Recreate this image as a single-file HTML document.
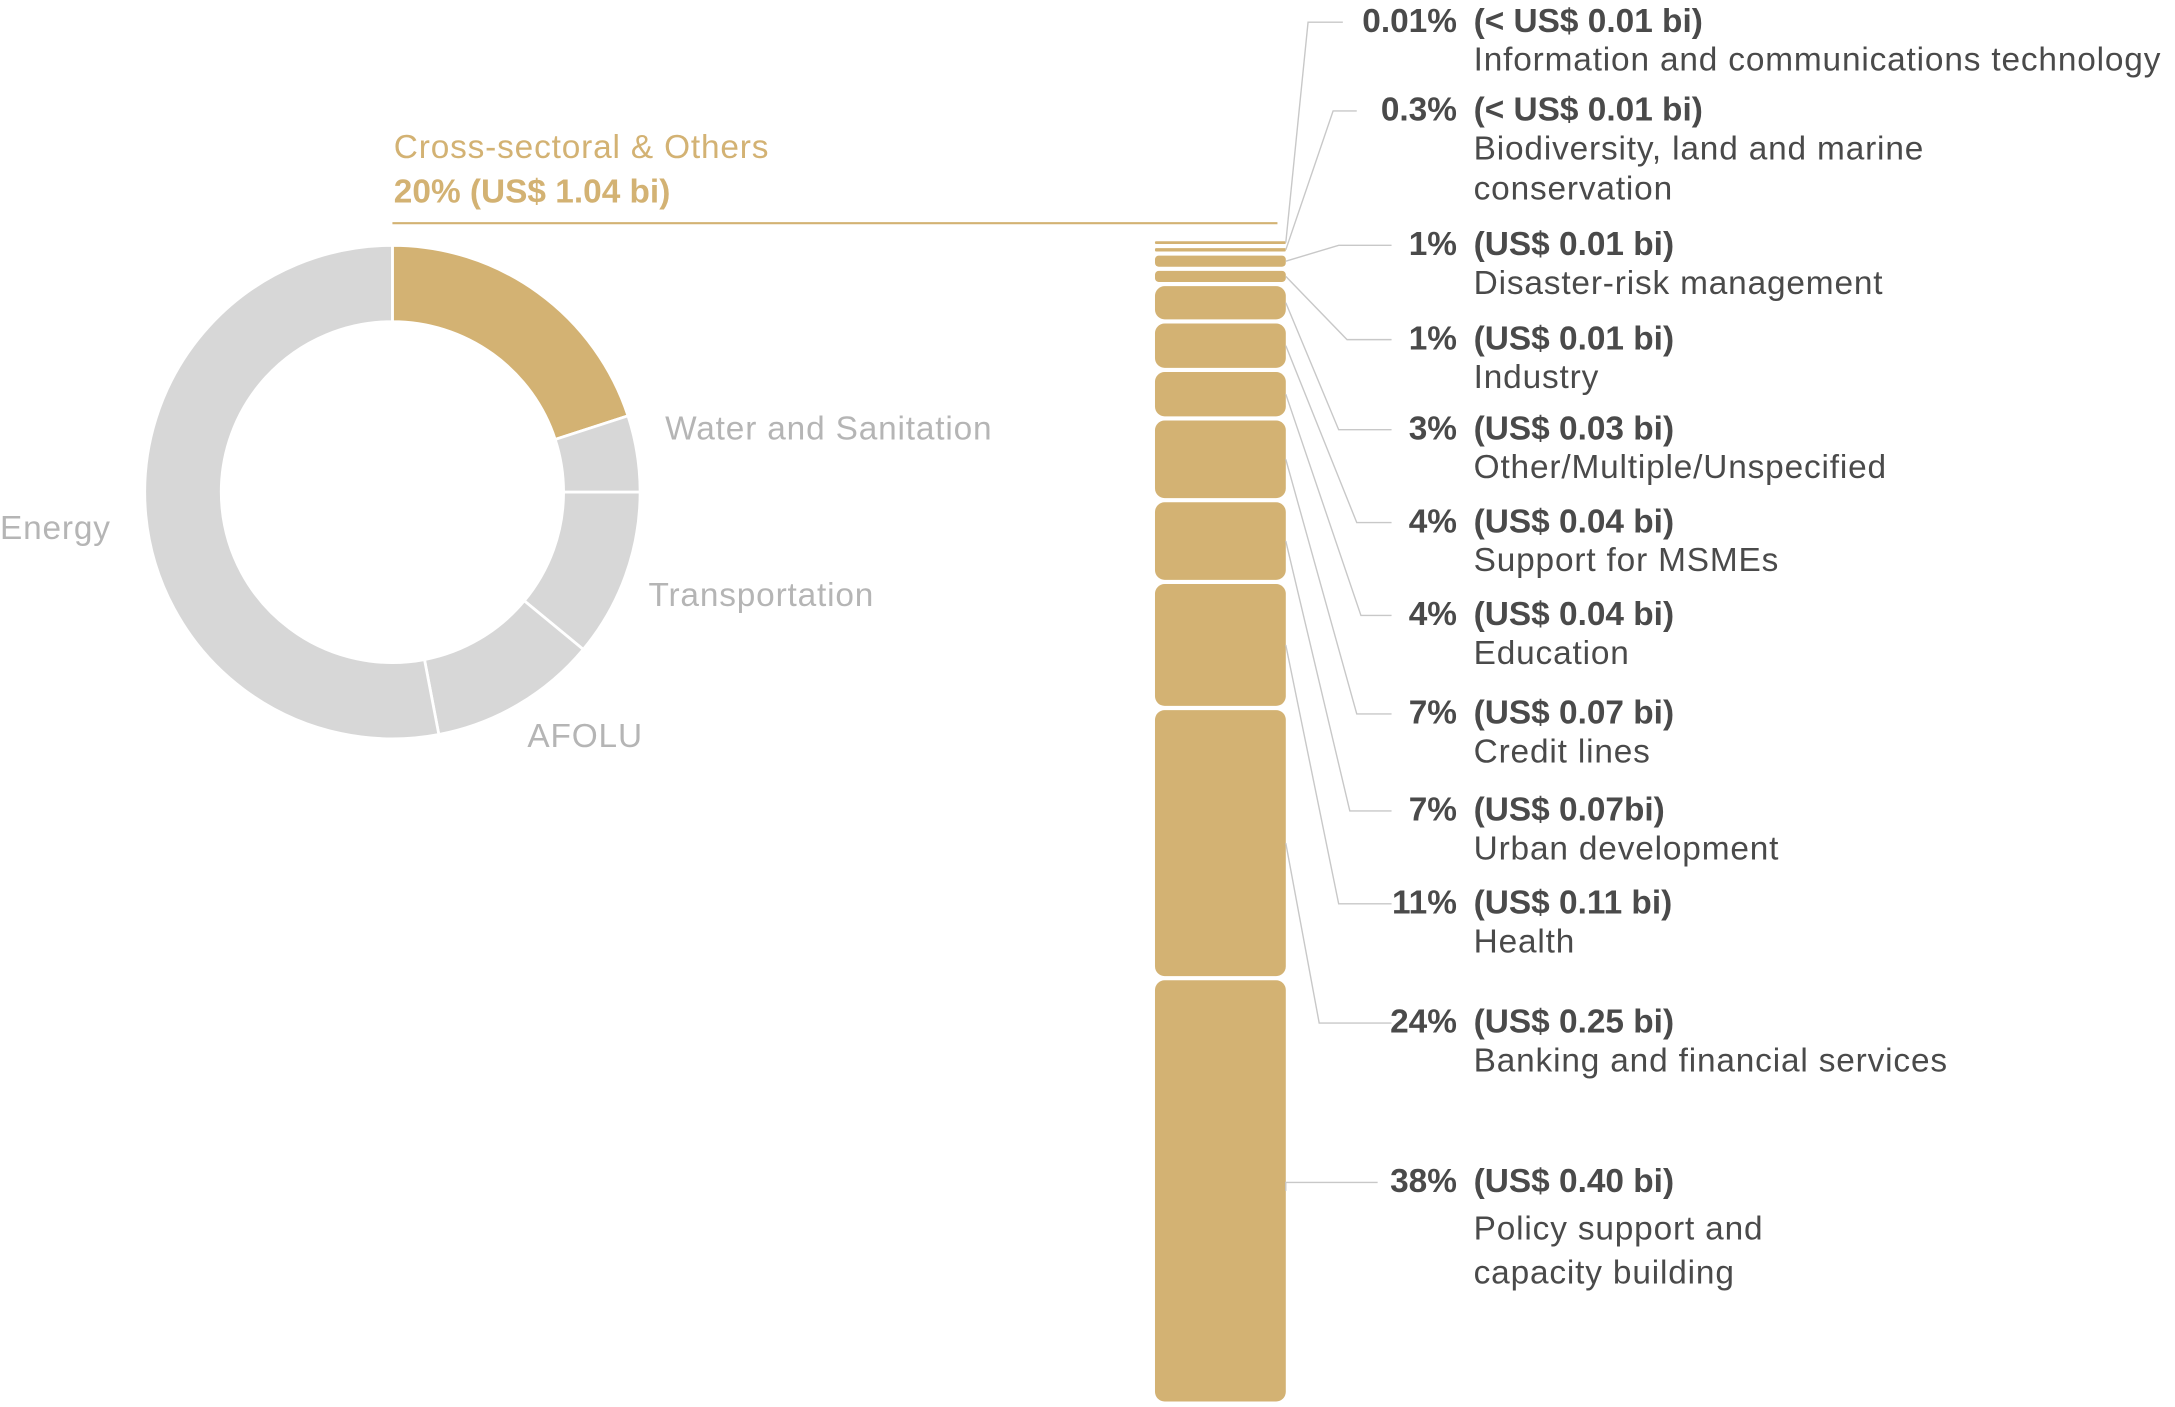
<!DOCTYPE html>
<html><head><meta charset="utf-8"><style>
html,body{margin:0;padding:0;background:#fff;}
svg{display:block;font-family:"Liberation Sans",sans-serif;}
.reg{letter-spacing:0.6px;}
</style></head><body>
<svg id="chart" width="2175" height="1407" viewBox="0 0 1563 1015" preserveAspectRatio="none" xmlns="http://www.w3.org/2000/svg">
<g id="donut"></g>
<g id="donutLabels">
<text class="reg" x="283" y="114" font-size="24" fill="#d3b273">Cross-sectoral &amp; Others</text>
<text x="283" y="146" font-size="24" font-weight="bold" fill="#d3b273">20% (US$ 1.04 bi)</text>
<line x1="282" y1="161" x2="918" y2="161" stroke="#d3b273" stroke-width="1.5"/>
<text class="reg" x="478" y="317" font-size="24" fill="#b5b5b5">Water and Sanitation</text>
<text class="reg" x="0" y="389" font-size="24" fill="#b5b5b5">Energy</text>
<text class="reg" x="466" y="437" font-size="24" fill="#b5b5b5">Transportation</text>
<text class="reg" x="379" y="539" font-size="24" fill="#b5b5b5">AFOLU</text>
</g>
<g id="stack"></g>
<g id="leaders"></g>
<g id="labels"></g>
</svg>
<script>
// Donut data
const donutCats = ["Cross-sectoral & Others","Water and Sanitation","Transportation","AFOLU","Energy"];
const donutVals = [20, 5, 11, 11, 53];
// Stack data (top to bottom)
const stackCats = ["Information and communications technology","Biodiversity, land and marine|conservation","Disaster-risk management","Industry","Other/Multiple/Unspecified","Support for MSMEs","Education","Credit lines","Urban development","Health","Banking and financial services","Policy support and|capacity building"];
const stackVals = [0.01, 0.3, 1, 1, 3, 4, 4, 7, 7, 11, 24, 38];
const pctLabels = ["0.01%","0.3%","1%","1%","3%","4%","4%","7%","7%","11%","24%","38%"];
const amtLabels = ["(< US$ 0.01 bi)","(< US$ 0.01 bi)","(US$ 0.01 bi)","(US$ 0.01 bi)","(US$ 0.03 bi)","(US$ 0.04 bi)","(US$ 0.04 bi)","(US$ 0.07 bi)","(US$ 0.07bi)","(US$ 0.11 bi)","(US$ 0.25 bi)","(US$ 0.40 bi)"];

const NS="http://www.w3.org/2000/svg";
function mk(tag, attrs, parent){const e=document.createElementNS(NS,tag);for(const k in attrs)e.setAttribute(k,attrs[k]);parent.appendChild(e);return e;}

// Donut
const cx=282, cy=355, R=178, r=123;
const dg=document.getElementById('donut');
const dTotal=donutVals.reduce((a,b)=>a+b,0);
let acc=0;
function pt(rad,a){return [cx+rad*Math.sin(a), cy-rad*Math.cos(a)];}
donutVals.forEach((v,i)=>{
  const a0=acc/dTotal*2*Math.PI; acc+=v; const a1=acc/dTotal*2*Math.PI;
  const large=(a1-a0)>Math.PI?1:0;
  const p0=pt(R,a0),p1=pt(R,a1),q1=pt(r,a1),q0=pt(r,a0);
  const d=`M${p0[0]},${p0[1]} A${R},${R} 0 ${large} 1 ${p1[0]},${p1[1]} L${q1[0]},${q1[1]} A${r},${r} 0 ${large} 0 ${q0[0]},${q0[1]} Z`;
  const p=mk('path',{d:d,fill:i===0?'#d3b273':'#d7d7d7',stroke:'#fff','stroke-width':2},dg);
  
  
});

// Stack
const sg=document.getElementById('stack'), lg=document.getElementById('leaders'), tg=document.getElementById('labels');
const barX=830, barW=94, top0=174, bottom=1011, gap=3, minH=2;
const sTotal=stackVals.reduce((a,b)=>a+b,0);
const smallSum=stackVals.filter(v=>v/sTotal*800<minH).reduce((a,b)=>a+b,0);
const nSmall=stackVals.filter(v=>v/sTotal*800<minH).length;
const avail=(bottom-top0)-gap*(stackVals.length-1)-nSmall*minH;
const k=avail/(sTotal-smallSum);
// layout (label positions)
const labelY=[15,79,176,244,309,376,443,514,584,651,737,852];
const elbowX=[940,958,962,968,962,975,978,975,970,962,948,924];
let y=top0;
stackVals.forEach((v,i)=>{
  let h=v*k; if(h<minH) h=minH;
  const rr=Math.min(7,h/3);
  const rect=mk('rect',{x:barX,y:y,width:barW,height:h,rx:rr,ry:rr,fill:'#d3b273'},sg);
  
  
  const mid=y+h/2;
  const ly=labelY[i]+1;
  const endX=i===11?990:(i<2?(i===0?965:975):1000);
  const pl=mk('polyline',{points:`${barX+barW},${mid} ${elbowX[i]},${ly} ${endX},${ly}`,fill:'none',stroke:'#c8c8c8','stroke-width':1},lg);
  
  
  const t1=mk('text',{x:1047,y:labelY[i]+8,'font-size':24,'font-weight':'bold',fill:'#4a4a4a','text-anchor':'end'},tg);
  t1.textContent=pctLabels[i];
  
  
  const t2=mk('text',{x:1059,y:labelY[i]+8,'font-size':24,'font-weight':'bold',fill:'#4a4a4a'},tg);
  t2.textContent=amtLabels[i];
  
  
  const lines=stackCats[i].split('|');
  const lh=i===11?32:29;
  const off=i===11?42:36;
  lines.forEach((ln,j)=>{
    const t=mk('text',{x:1059,y:labelY[i]+off+j*lh,'font-size':24,fill:'#4a4a4a','class':'reg'},tg);
    t.textContent=ln;
    
    
  });
  y+=h+gap;
});
</script>
</body></html>
